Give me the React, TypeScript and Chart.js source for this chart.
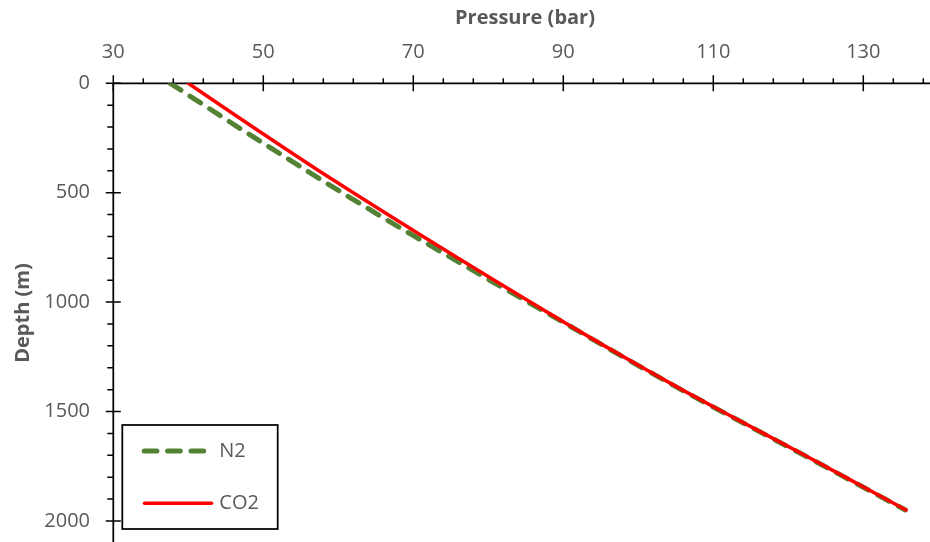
import { useEffect, useRef } from 'react';
import { Chart, registerables } from 'chart.js';

Chart.register(...registerables);

// ---- Data ----
const depths = [0, 100, 200, 300, 400, 500, 600, 700, 800, 900, 1000, 1100, 1200, 1300, 1400, 1500, 1600, 1700, 1800, 1900, 1950];
const n2Pressure = [37.6, 42.1, 46.6, 51.2, 55.8, 60.5, 65.3, 70.2, 75.2, 80.2, 85.3, 90.4, 95.4, 100.5, 105.7, 111.1, 116.6, 122.1, 127.5, 132.9, 135.6];
const co2Pressure = [40.0, 44.3, 48.6, 53.0, 57.4, 62.0, 66.6, 71.3, 76.0, 80.8, 85.6, 90.5, 95.5, 100.6, 105.8, 111.2, 116.7, 122.2, 127.6, 133.0, 135.7];
const pressureTicks = [30, 50, 70, 90, 110, 130];
const depthTicks = [0, 500, 1000, 1500, 2000];
const seriesNames = ['N2', 'CO2'];
const xTitle = 'Pressure (bar)';
const yTitle = 'Depth (m)';

const X_MIN = 30, X_MAX = 140, X_MINOR = 4;
const Y_MIN = 0, Y_MAX = 2100, Y_MINOR = 100;

const W = 945, H = 550;
const AREA = { left: 113.3, top: 83.3, right: 938.3, bottom: 542.8 };
const LABEL_COLOR = '#595959';
const FONT = '"Open Sans", "Liberation Sans", sans-serif';

const axesPlugin = {
  id: 'customAxes',
  beforeDatasetsDraw(chart: any) {
    const { ctx, scales } = chart;
    const x = scales.x, y = scales.y;
    const x0 = x.getPixelForValue(X_MIN);
    const x1 = x.getPixelForValue(X_MAX);
    const y0 = y.getPixelForValue(Y_MIN);
    const y1 = y.getPixelForValue(Y_MAX);
    ctx.save();
    ctx.strokeStyle = '#000';
    ctx.lineWidth = 1.75;
    ctx.beginPath();
    ctx.moveTo(x0, y0);
    ctx.lineTo(x1 + 5, y0);
    ctx.moveTo(x0, y0);
    ctx.lineTo(x0, y1 + 5);
    ctx.stroke();
    // minor ticks
    ctx.lineWidth = 1.5;
    ctx.beginPath();
    for (let v = X_MIN; v <= X_MAX + 1e-9; v += X_MINOR) {
      const px = x.getPixelForValue(v);
      ctx.moveTo(px, y0 - 5);
      ctx.lineTo(px, y0);
    }
    for (let v = Y_MIN; v <= Y_MAX + 1e-9; v += Y_MINOR) {
      const py = y.getPixelForValue(v);
      ctx.moveTo(x0 - 6, py);
      ctx.lineTo(x0, py);
    }
    // major ticks (cross)
    for (const v of pressureTicks) {
      const px = x.getPixelForValue(v);
      ctx.moveTo(px, y0 - 8);
      ctx.lineTo(px, y0 + 8);
    }
    for (const v of depthTicks) {
      const py = y.getPixelForValue(v);
      ctx.moveTo(x0 - 7.5, py);
      ctx.lineTo(x0 + 7.5, py);
    }
    ctx.stroke();

    // tick labels
    ctx.fillStyle = LABEL_COLOR;
    ctx.font = `20px ${FONT}`;
    ctx.textBaseline = 'middle';
    ctx.textAlign = 'center';
    for (const v of pressureTicks) {
      ctx.fillText(String(v), x.getPixelForValue(v), 52);
    }
    ctx.textAlign = 'right';
    for (const v of depthTicks) {
      ctx.fillText(String(v), 90, y.getPixelForValue(v));
    }
    // titles
    ctx.font = `bold 20px ${FONT}`;
    ctx.textAlign = 'center';
    ctx.fillText(xTitle, 525, 18);
    ctx.save();
    ctx.translate(23, 313);
    ctx.rotate(-Math.PI / 2);
    ctx.fillText(yTitle, 0, 0);
    ctx.restore();
    ctx.restore();
  },
  afterDraw(chart: any) {
    const { ctx } = chart;
    const ds = chart.data.datasets;
    const n2 = ds.find((d: any) => d.label === seriesNames[0]);
    const co2 = ds.find((d: any) => d.label === seriesNames[1]);
    ctx.save();
    ctx.fillStyle = '#fff';
    ctx.fillRect(122.3, 425, 155.4, 104);
    ctx.strokeStyle = '#000';
    ctx.lineWidth = 1.75;
    ctx.strokeRect(122.3, 425, 155.4, 104);
    // N2
    ctx.strokeStyle = n2.borderColor;
    ctx.lineWidth = n2.borderWidth;
    ctx.lineCap = 'round';
    ctx.setLineDash(n2.borderDash);
    ctx.beginPath();
    ctx.moveTo(144.2, 451);
    ctx.lineTo(204, 451);
    ctx.stroke();
    // CO2
    ctx.setLineDash([]);
    ctx.lineCap = 'round';
    ctx.strokeStyle = co2.borderColor;
    ctx.lineWidth = co2.borderWidth;
    ctx.beginPath();
    ctx.moveTo(144.5, 503.3);
    ctx.lineTo(211.5, 503.3);
    ctx.stroke();
    ctx.fillStyle = LABEL_COLOR;
    ctx.font = `20px ${FONT}`;
    ctx.textAlign = 'left';
    ctx.textBaseline = 'middle';
    ctx.fillText(seriesNames[0], 219.3, 451);
    ctx.fillText(seriesNames[1], 219.3, 503);
    ctx.restore();
  },
};

export default function App() {
  const ref = useRef<HTMLCanvasElement | null>(null);
  useEffect(() => {
    if (!ref.current) return;
    const chart = new Chart(ref.current, {
      type: 'line',
      data: {
        datasets: [
          {
            label: seriesNames[1],
            data: depths.map((d, i) => ({ x: co2Pressure[i], y: d })),
            borderColor: '#FF0000',
            borderWidth: 3.5,
            borderCapStyle: 'round',
            pointRadius: 0,
            fill: false,
            order: 0,
          },
          {
            label: seriesNames[0],
            data: depths.map((d, i) => ({ x: n2Pressure[i], y: d })),
            borderColor: '#548235',
            borderWidth: 5,
            borderDash: [12.7, 10.7],
            borderCapStyle: 'round',
            pointRadius: 0,
            fill: false,
            order: 1,
          },
        ],
      },
      options: {
        responsive: false,
        maintainAspectRatio: false,
        animation: false,
        events: [],
        layout: {
          padding: { left: AREA.left, top: AREA.top, right: W - AREA.right, bottom: H - AREA.bottom },
        },
        scales: {
          x: { type: 'linear', min: X_MIN, max: X_MAX, display: false },
          y: { type: 'linear', min: Y_MIN, max: Y_MAX, reverse: true, display: false },
        },
        plugins: {
          legend: { display: false },
          tooltip: { enabled: false },
        },
      },
      plugins: [axesPlugin],
    } as any);
    return () => chart.destroy();
  }, []);
  return (
    <div style={{ position: 'fixed', left: 0, top: 0, width: 930, height: 542, overflow: 'hidden', background: '#fff' }}>
      <canvas ref={ref} width={W} height={H} style={{ width: W, height: H, display: 'block' }} />
    </div>
  );
}
